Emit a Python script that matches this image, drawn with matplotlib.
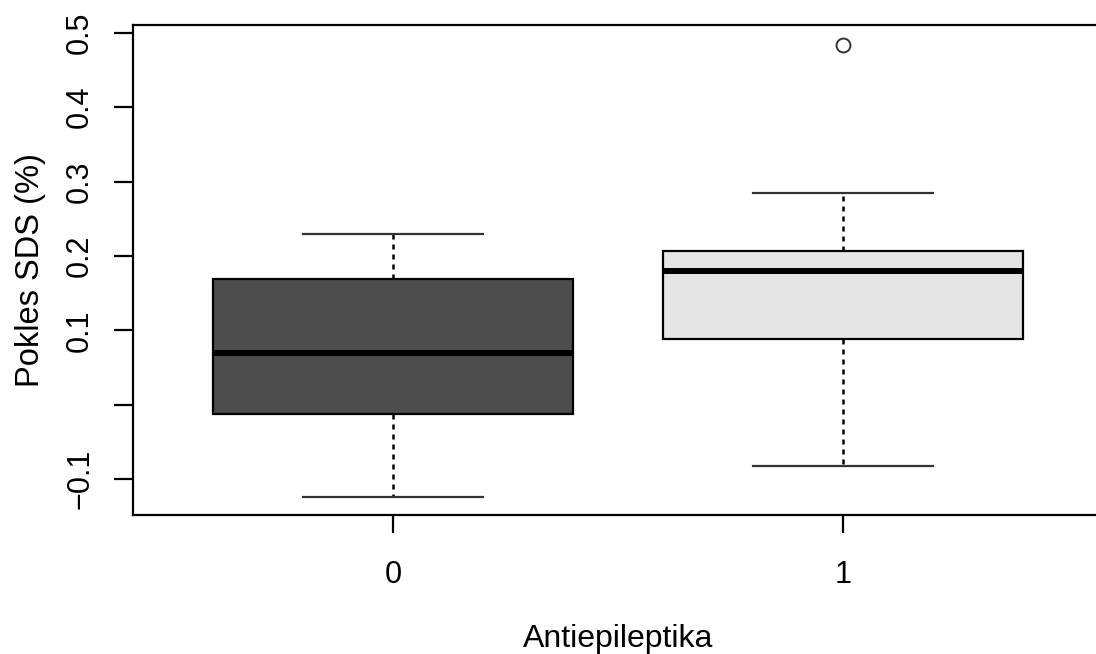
import numpy as np
import matplotlib.pyplot as plt

plt.rcParams['font.family'] = ['Liberation Sans', 'DejaVu Sans']

# groups and box statistics
groups = ['0', '1']
medians = [0.070, 0.180]
q1 = [-0.013, 0.088]
q3 = [0.169, 0.207]
whis_lo = [-0.124, -0.082]
whis_hi = [0.230, 0.284]
outliers = [[], [0.484]]
fills = ['#4d4d4d', '#e5e5e5']

yticks = [-0.1, 0.0, 0.1, 0.2, 0.3, 0.4, 0.5]
ytick_labels = ['\u22120.1', '', '0.1', '0.2', '0.3', '0.4', '0.5']

stats = []
for i in range(len(groups)):
    stats.append(dict(med=medians[i], q1=q1[i], q3=q3[i],
                      whislo=whis_lo[i], whishi=whis_hi[i],
                      fliers=outliers[i], label=groups[i]))

W, H = 1096, 654
fig = plt.figure(figsize=(W/100, H/100), dpi=100)
# plot region like R: right edge runs past the picture
ax = fig.add_axes([132.7/W, 138.7/H, (1104-132.7)/W, 490/H])

pos = np.arange(len(groups))
bp = ax.bxp(stats, positions=pos, widths=0.8, patch_artist=True,
            showfliers=True,
            boxprops=dict(edgecolor='black', linewidth=1.6),
            medianprops=dict(color='black', linewidth=4.3, solid_capstyle='butt'),
            whiskerprops=dict(color='black', linewidth=1.8, linestyle=(0, (2, 2))),
            capprops=dict(color='#333333', linewidth=1.6),
            capwidths=0.4,
            flierprops=dict(marker='o', markersize=10, markerfacecolor='none',
                            markeredgecolor='#333333', markeredgewidth=1.4))
for patch, c in zip(bp['boxes'], fills):
    patch.set_facecolor(c)

ax.set_xlim(-0.578, 1.58)
ax.set_ylim(-0.1487, 0.510)

ax.set_xticks(pos)
ax.set_xticklabels(groups, fontsize=22)
ax.set_yticks(yticks)
ax.set_yticklabels(ytick_labels, fontsize=22, rotation=90, va='center')

ax.tick_params(axis='y', length=14, width=1.6, pad=13)
ax.tick_params(axis='x', length=13, width=1.6, pad=19)
for s in ax.spines.values():
    s.set_linewidth(1.6)

ax.set_xlabel('Antiepileptika', fontsize=23, labelpad=25)
ax.set_ylabel('Pokles SDS (%)', fontsize=23.5, labelpad=14)

fig.savefig('out.png', dpi=100)
